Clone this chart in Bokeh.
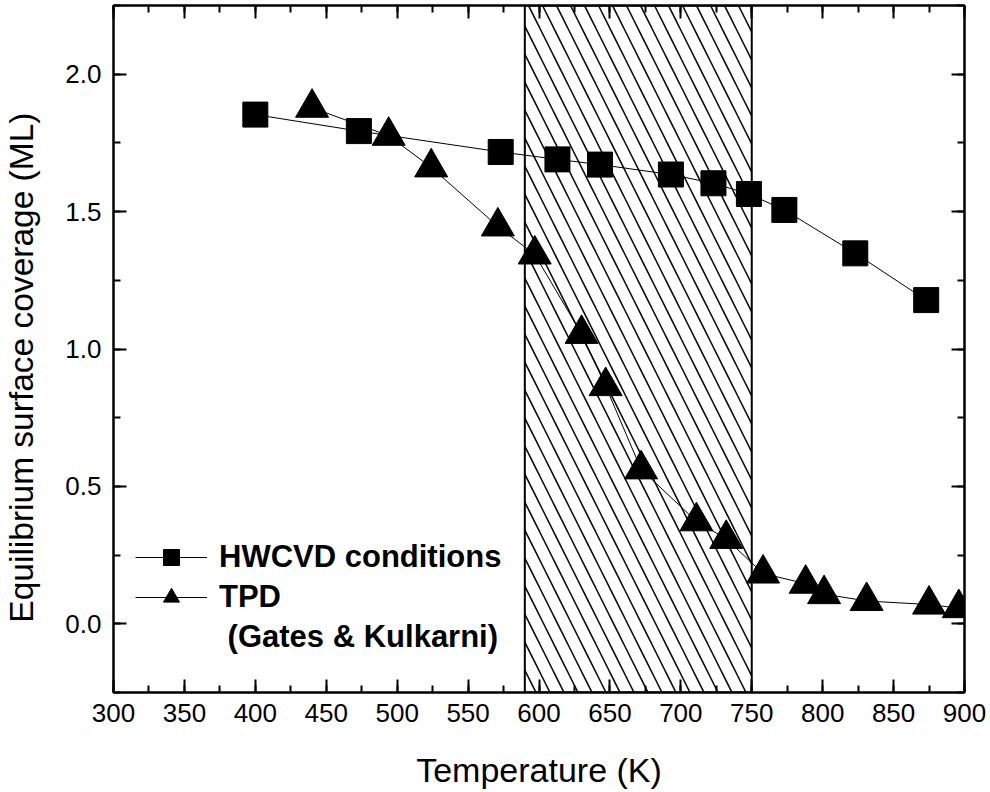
from bokeh.plotting import figure
from bokeh.models import (Range1d, LinearAxis, SingleIntervalTicker, NumeralTickFormatter,
                          CustomJSTickFormatter, BoxAnnotation, Legend, LegendItem)
from bokeh.embed import file_html
from bokeh.resources import INLINE

# ---- data ----
hw_T = [400, 473, 573, 613, 643, 693, 723, 748, 773, 823, 873]
hw_cov = [1.853, 1.793, 1.717, 1.690, 1.671, 1.635, 1.603, 1.564, 1.506, 1.348, 1.178]

tpd_T = [440, 494, 524, 571, 597, 630, 647, 672, 711, 732, 758, 788, 801, 831, 875, 896]
tpd_cov = [1.878, 1.776, 1.661, 1.446, 1.344, 1.055, 0.865, 0.562, 0.373, 0.309,
           0.183, 0.146, 0.108, 0.083, 0.070, 0.057]

band_left = 590
band_right = 750

x_min, x_max = 300, 900
y_min, y_max = -0.25, 2.25

x_label = "Temperature (K)"
y_label = "Equilibrium surface coverage (ML)"
hw_name = "HWCVD conditions"
tpd_name = "TPD"
tpd_ref = "\u00a0(Gates & Kulkarni)"

FONT = "Liberation Sans"

p = figure(width=990, height=792, output_backend="svg", toolbar_location=None,
           x_range=Range1d(x_min, x_max), y_range=Range1d(y_min, y_max),
           x_axis_type=None, y_axis_type=None,
           min_border_left=113, min_border_right=26, min_border_top=5, min_border_bottom=100)
p.xgrid.visible = False
p.ygrid.visible = False
p.outline_line_color = "black"
p.outline_line_width = 2
p.background_fill_color = "white"
p.border_fill_color = "white"

xticker = SingleIntervalTicker(interval=50, num_minor_ticks=2)
yticker = SingleIntervalTicker(interval=0.5, num_minor_ticks=2)


def style_axis(ax, labels=True):
    ax.axis_line_width = 2
    ax.axis_line_color = "black"
    ax.major_tick_in = 13
    ax.major_tick_out = 0
    ax.minor_tick_in = 7
    ax.minor_tick_out = 0
    ax.major_tick_line_width = 2
    ax.minor_tick_line_width = 2
    ax.major_tick_line_color = "black"
    ax.minor_tick_line_color = "black"
    if labels:
        ax.major_label_text_font = FONT
        ax.major_label_text_font_size = "26px"
        ax.major_label_text_color = "black"
        ax.axis_label_text_font = FONT
        ax.axis_label_text_font_style = "normal"
        ax.axis_label_text_color = "black"
    else:
        ax.formatter = CustomJSTickFormatter(code="return ''")
        ax.major_label_text_font_size = "1px"
        ax.major_label_standoff = 0


xb = LinearAxis(ticker=xticker, axis_label=x_label)
style_axis(xb)
xb.axis_label_text_font_size = "34px"
xb.major_label_standoff = 11
xb.axis_label_standoff = 26
p.add_layout(xb, "below")

yl = LinearAxis(ticker=yticker, axis_label=y_label + "\u00a0\u00a0\u00a0\u00a0",
                formatter=NumeralTickFormatter(format="0.0"))
style_axis(yl)
yl.axis_label_text_font_size = "33.5px"
yl.major_label_standoff = 12
yl.axis_label_standoff = 22
p.add_layout(yl, "left")

xt = LinearAxis(ticker=xticker)
style_axis(xt, labels=False)
p.add_layout(xt, "above")

yr = LinearAxis(ticker=yticker)
style_axis(yr, labels=False)
p.add_layout(yr, "right")

band = BoxAnnotation(left=band_left, right=band_right, fill_color=None, fill_alpha=0,
                     line_color="black", line_alpha=1.0, line_width=2,
                     hatch_pattern="\\", hatch_scale=28, hatch_weight=1.5,
                     hatch_color="black", hatch_alpha=1.0, level="underlay")
p.add_layout(band)

hw_line = p.line(hw_T, hw_cov, line_color="black", line_width=1)
hw_pts = p.scatter(hw_T, hw_cov, marker="square", size=25, fill_color="black", line_color="black")
tpd_line = p.line(tpd_T, tpd_cov, line_color="black", line_width=1)
tpd_pts = p.scatter(tpd_T, tpd_cov, marker="triangle", size=33, fill_color="black", line_color="black")
dummy = p.line([], [], line_alpha=0)

legend = Legend(items=[
    LegendItem(label=hw_name, renderers=[hw_line, hw_pts]),
    LegendItem(label=tpd_name, renderers=[tpd_line, tpd_pts]),
    LegendItem(label=tpd_ref, renderers=[dummy]),
], location=(22, 35))
legend.glyph_width = 72
legend.glyph_height = 40
legend.label_height = 40
legend.spacing = 0
legend.padding = 0
legend.margin = 0
legend.label_standoff = 12
legend.label_text_font = FONT
legend.label_text_font_size = "31px"
legend.label_text_font_style = "bold"
legend.label_text_color = "black"
legend.border_line_alpha = 0
legend.background_fill_alpha = 0
p.add_layout(legend, "center")

open("out.html", "w").write(file_html(p, INLINE))
